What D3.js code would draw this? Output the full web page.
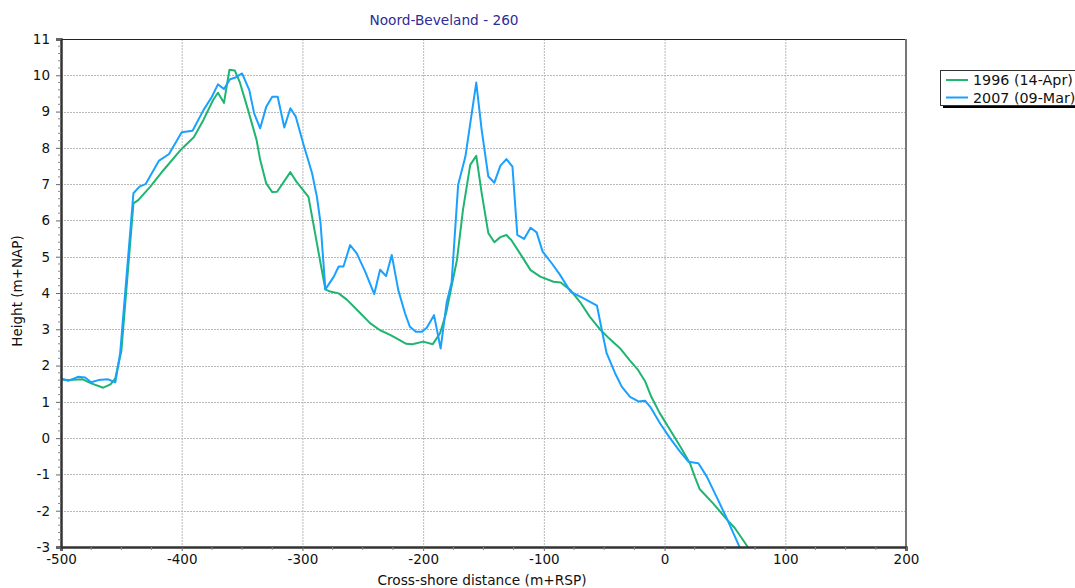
<!DOCTYPE html>
<html>
<head>
<meta charset="utf-8">
<script src="https://cdn.jsdelivr.net/npm/d3@7"></script>
<style>
  body { margin: 0; background: #fff; }
  svg { display: block; font-family: "DejaVu Sans", Verdana, sans-serif; }
</style>
</head>
<body>
<div id="chart"></div>
<script>
const title = 'Noord-Beveland - 260';
const xLabel = 'Cross-shore distance (m+RSP)';
const yLabel = 'Height (m+NAP)';
const seriesNames = ['1996 (14-Apr)', '2007 (09-Mar)'];

const xTicks = [-500, -400, -300, -200, -100, 0, 100, 200];
const yTicks = [-3, -2, -1, 0, 1, 2, 3, 4, 5, 6, 7, 8, 9, 10, 11];

// 1996 profile
const dist1996 = [-501, -494, -482, -475, -465, -459, -455, -450, -440, -436, -426, -415, -401, -390,
  -382, -374, -370, -365, -360.5, -356, -352, -345, -338, -335, -330, -325, -321, -310, -305, -295,
  -291, -285, -281, -277, -270, -263, -252, -244, -236, -227, -222, -214, -209, -200, -192, -186,
  -181, -172, -167, -161, -156, -151.5, -146, -141, -136, -131, -127, -119, -111, -103, -92, -86,
  -78, -70, -62, -53, -46, -37, -29, -22, -16, -11, -4, 4.5, 13, 21, 25, 29, 40, 51.5, 58, 64, 69.5, 75];
const height1996 = [1.62, 1.6, 1.62, 1.51, 1.39, 1.48, 1.65, 2.4, 6.47, 6.56, 6.93, 7.39, 7.94, 8.29,
  8.77, 9.32, 9.52, 9.24, 10.15, 10.13, 9.82, 9.04, 8.22, 7.67, 7.02, 6.78, 6.79, 7.33, 7.07, 6.65,
  5.92, 4.82, 4.1, 4.04, 3.99, 3.81, 3.44, 3.17, 2.98, 2.84, 2.75, 2.6, 2.59, 2.66, 2.59, 2.89,
  3.44, 4.91, 6.29, 7.53, 7.78, 6.75, 5.65, 5.4, 5.54, 5.6, 5.46, 5.05, 4.63, 4.45, 4.31, 4.29,
  4.08, 3.75, 3.35, 2.98, 2.75, 2.48, 2.15, 1.88, 1.56, 1.14, 0.69, 0.23, -0.23, -0.69, -1.06, -1.4, -1.79, -2.24, -2.47, -2.76, -3.03, -3.2];

// 2007 profile
const dist2007 = [-501, -494, -486, -480, -475, -469, -461, -455, -451, -440, -435, -430, -419, -410.5,
  -400, -391, -382, -375, -370, -365, -360, -356, -350, -344, -340, -335, -330, -325, -320.5, -315,
  -310, -305.5, -299, -292, -288, -285, -281, -274, -270, -266, -260.5, -255, -248, -240.5, -235.7,
  -230.7, -226, -220.6, -215, -211, -206, -201, -197, -191, -185.5, -180.5, -176.4, -171, -165,
  -156, -151.5, -146, -141, -136, -131, -126, -122, -116.4, -111, -106, -101, -93.5, -87, -78,
  -67, -56, -52, -48, -41, -35.5, -28.6, -21.7, -16.2, -12, -3.8, 4.5, 12.8, 19.7, 28, 35, 43, 51.5, 57, 62.5, 66];
const height2007 = [1.65, 1.58, 1.69, 1.67, 1.54, 1.6, 1.62, 1.54, 2.34, 6.75, 6.93, 7.0, 7.64, 7.83,
  8.43, 8.47, 9.04, 9.41, 9.75, 9.62, 9.89, 9.93, 10.05, 9.59, 8.95, 8.54, 9.13, 9.41, 9.41, 8.56,
  9.09, 8.86, 8.08, 7.3, 6.65, 5.93, 4.1, 4.45, 4.73, 4.73, 5.32, 5.09, 4.59, 3.97, 4.64,
  4.47, 5.05, 4.08, 3.44, 3.07, 2.93, 2.93, 3.04, 3.39, 2.47, 3.74, 4.3, 6.98, 7.76,
  9.8, 8.49, 7.21, 7.04, 7.51, 7.69, 7.48, 5.6, 5.49, 5.8, 5.67, 5.14, 4.82, 4.52, 4.04,
  3.85, 3.65, 2.98, 2.34, 1.79, 1.42, 1.14, 1.01, 1.03, 0.87, 0.41, 0.0, -0.37, -0.65, -0.69, -1.06, -1.61, -2.21, -2.62, -3.03, -3.3];

const colors = ['#1fb571', '#1aa1ff'];

const width = 1075, height = 588;
const margin = {top: 39, right: 169, bottom: 41, left: 61};

const svg = d3.select('#chart').append('svg')
  .attr('width', width)
  .attr('height', height)
  .attr('viewBox', `0,0,${width},${height}`);

const x = d3.scaleLinear().domain([-500, 200]).range([margin.left, width - margin.right]);
const y = d3.scaleLinear().domain([-3, 11]).range([height - margin.bottom, margin.top]);

// grid
const grid = svg.append('g')
  .attr('stroke', '#b8b8b8')
  .attr('stroke-dasharray', '2,1');
grid.selectAll('.gx').data(xTicks.slice(1, -1)).join('line')
  .attr('x1', d => x(d) + 0.5).attr('x2', d => x(d) + 0.5)
  .attr('y1', y(11)).attr('y2', y(-3));
grid.selectAll('.gy').data(yTicks.slice(1, -1)).join('line')
  .attr('y1', d => Math.round(y(d)) + 0.5).attr('y2', d => Math.round(y(d)) + 0.5)
  .attr('x1', x(-500)).attr('x2', x(200));

// frame top/right
svg.append('line').attr('x1', x(-500)).attr('x2', x(200)).attr('y1', y(11) + 0.5).attr('y2', y(11) + 0.5)
  .attr('stroke', '#222');
svg.append('line').attr('x1', x(200)).attr('x2', x(200)).attr('y1', y(11)).attr('y2', y(-3))
  .attr('stroke', '#777').attr('stroke-width', 2);

// lines
svg.append('clipPath').attr('id', 'clip').append('rect')
  .attr('x', x(-500)).attr('y', y(11)).attr('width', x(200) - x(-500)).attr('height', y(-3) - y(11));

const series = [
  dist1996.map((d, i) => [d, height1996[i]]),
  dist2007.map((d, i) => [d, height2007[i]])
];
const line = d3.line().x(d => x(d[0])).y(d => y(d[1]));

svg.append('g').attr('clip-path', 'url(#clip)')
  .selectAll('path').data(series).join('path')
  .attr('fill', 'none')
  .attr('stroke', (d, i) => colors[i])
  .attr('stroke-width', 2)
  .attr('stroke-linejoin', 'round')
  .attr('d', line);

// axes (plain hyphen for negatives, like the original)
const fmt = d => String(d);

const xAxis = svg.append('g')
  .attr('transform', `translate(0,${y(-3)})`)
  .call(d3.axisBottom(x).tickValues(xTicks).tickSize(4).tickPadding(3).tickFormat(fmt));
xAxis.append('g').selectAll('line').data(d3.range(-475, 200, 25).filter(d => d % 100 !== 0)).join('line')
  .attr('x1', d => x(d)).attr('x2', d => x(d)).attr('y1', 0).attr('y2', 3).attr('stroke', '#888');

const yAxis = svg.append('g')
  .attr('transform', `translate(${x(-500)},0)`)
  .call(d3.axisLeft(y).tickValues(yTicks).tickSize(5).tickPadding(6).tickFormat(fmt));
yAxis.append('g').selectAll('line').data(d3.range(-3, 11, 0.2).filter(d => Math.abs(d - Math.round(d)) > 0.01)).join('line')
  .attr('x1', 0).attr('x2', -3).attr('y1', d => y(d)).attr('y2', d => y(d)).attr('stroke', '#888');

[xAxis, yAxis].forEach(g => {
  g.select('.domain').attr('stroke', '#333').attr('stroke-width', 2.5);
  g.selectAll('.tick line').attr('stroke', '#666');
  g.selectAll('.tick text').attr('fill', '#111').style('font-size', '13.5px')
    .style('font-family', '"DejaVu Sans", Verdana, sans-serif');
});

// titles
svg.append('text').attr('x', 444).attr('y', 25)
  .attr('text-anchor', 'middle').attr('fill', '#2c2c96').style('font-size', '13.7px')
  .text(title);

svg.append('text').attr('x', 482).attr('y', 585)
  .attr('text-anchor', 'middle').attr('fill', '#111').style('font-size', '13.7px')
  .text(xLabel);

svg.append('text')
  .attr('transform', `translate(22,${(y(11) + y(-3)) / 2 - 2}) rotate(-90)`)
  .attr('text-anchor', 'middle').attr('fill', '#111').style('font-size', '13.5px')
  .text(yLabel);

// legend
const legend = svg.append('g').attr('transform', 'translate(940,70)');
legend.append('rect').attr('x', 3).attr('y', 3).attr('width', 140).attr('height', 35).attr('fill', '#000');
legend.append('rect').attr('x', 0.5).attr('y', 0.5).attr('width', 140).attr('height', 35)
  .attr('fill', '#fff').attr('stroke', '#333');
const item = legend.selectAll('.item').data(seriesNames).join('g')
  .attr('transform', (d, i) => `translate(0,${10 + i * 17.5})`);
item.append('line').attr('x1', 6).attr('x2', 28).attr('stroke', (d, i) => colors[i]).attr('stroke-width', 2);
item.append('text').attr('x', 33).attr('dy', '0.35em').attr('fill', '#111').style('font-size', '14.3px')
  .text(d => d);
</script>
</body>
</html>
